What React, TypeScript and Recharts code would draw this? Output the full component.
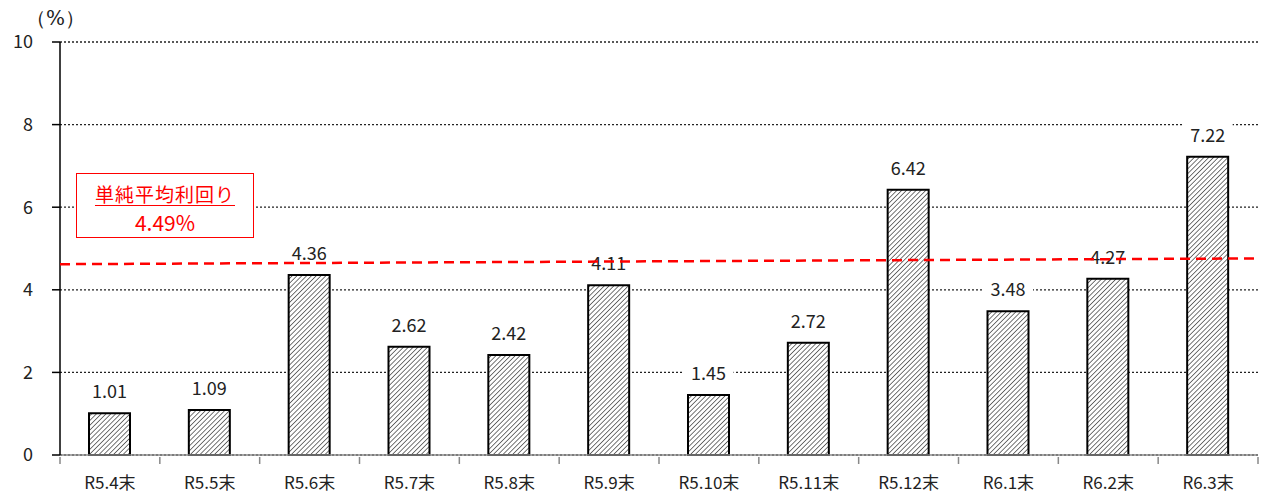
import { BarChart, Bar, XAxis, YAxis, CartesianGrid, LabelList, LineChart, Line } from "recharts";

const categories = ["R5.4末", "R5.5末", "R5.6末", "R5.7末", "R5.8末", "R5.9末", "R5.10末", "R5.11末", "R5.12末", "R6.1末", "R6.2末", "R6.3末"];
const yields = [1.01, 1.09, 4.36, 2.62, 2.42, 4.11, 1.45, 2.72, 6.42, 3.48, 4.27, 7.22];
const yTicks = [0, 2, 4, 6, 8, 10];
// dashed average line as drawn (slightly rising across the plot)
const avgLinePoints = [
  { x: 0, y: 4.62 },
  { x: 12, y: 4.76 },
];
const avgTitle = "単純平均利回り";
const avgLabel = "4.49%";

const W = 1263;
const H = 497;
const PLOT_LEFT = 60;
const PLOT_RIGHT = 1258;
const PLOT_TOP = 42;
const X_AXIS_H = 42;
const HALF_BAND = (PLOT_RIGHT - PLOT_LEFT) / categories.length / 2;

const FONT = "'Noto Sans CJK JP', 'Noto Sans', sans-serif";

const data = categories.map((c, i) => ({ name: c, value: yields[i] }));

function CategoryTick(props: any) {
  const { x, y, payload, index } = props;
  return (
    <g>
      {index === 0 && <line x1={x - HALF_BAND} y1={y - 6} x2={x - HALF_BAND} y2={y + 1} stroke="#888" strokeWidth={1.5} />}
      <line x1={x + HALF_BAND} y1={y - 6} x2={x + HALF_BAND} y2={y + 1} stroke="#888" strokeWidth={1.5} />
      <text x={x} y={y + 26} textAnchor="middle" fontSize={17} fill="#222" fontFamily={FONT}>
        {payload.value}
      </text>
    </g>
  );
}

function ValueLabel(props: any) {
  const { x, y, width, value } = props;
  const cx = x + width / 2;
  return (
    <g>
      <rect x={cx - 25} y={y - 35} width={50} height={25} fill="#fff" />
      <text x={cx} y={y - 15} textAnchor="middle" fontSize={18} fill="#222" fontFamily={FONT}>
        {value.toFixed(2)}
      </text>
    </g>
  );
}

export default function App() {
  return (
    <div style={{ position: "absolute", left: 0, top: 0, width: W, height: H, background: "#fff" }}>
      <svg width={0} height={0} style={{ position: "absolute" }}>
        <defs>
          <pattern id="hatch" patternUnits="userSpaceOnUse" width={3.4} height={3.4} patternTransform="rotate(45)">
            <rect width={3.4} height={3.4} fill="#fff" />
            <line x1={0} y1={0} x2={0} y2={3.4} stroke="#3a3a3a" strokeWidth={1.4} />
          </pattern>
        </defs>
      </svg>
      <BarChart width={W} height={H} data={data} margin={{ top: PLOT_TOP, right: W - PLOT_RIGHT, bottom: 0, left: 0 }}>
        <CartesianGrid vertical={false} stroke="#222" strokeDasharray="2 2" strokeWidth={1.3} />
        <XAxis
          dataKey="name"
          height={X_AXIS_H}
          axisLine={{ stroke: "#888", strokeWidth: 1.5 }}
          tickLine={false}
          tick={<CategoryTick />}
          interval={0}
        />
        <YAxis
          width={PLOT_LEFT}
          domain={[0, 10]}
          ticks={yTicks}
          axisLine={{ stroke: "#000", strokeWidth: 1.5 }}
          tickLine={{ stroke: "#000", strokeWidth: 1.5 }}
          tickSize={8}
          tickMargin={19}
          tick={{ fontSize: 18, fill: "#222", fontFamily: FONT }}
        />
        <Bar dataKey="value" fill="url(#hatch)" stroke="#000" strokeWidth={2} barSize={41} isAnimationActive={false}>
          <LabelList dataKey="value" content={<ValueLabel />} />
        </Bar>
      </BarChart>
      <div style={{ position: "absolute", left: 0, top: 0, pointerEvents: "none" }}>
        <LineChart
          width={W}
          height={H}
          data={avgLinePoints}
          margin={{ top: PLOT_TOP, right: W - PLOT_RIGHT, bottom: X_AXIS_H, left: PLOT_LEFT }}
        >
          <XAxis dataKey="x" type="number" domain={[0, 12]} hide />
          <YAxis domain={[0, 10]} hide />
          <Line dataKey="y" stroke="#ff0000" strokeWidth={2.5} strokeDasharray="10 6" dot={false} isAnimationActive={false} />
        </LineChart>
      </div>
      <div style={{ position: "absolute", left: 26, top: 5, fontSize: 20, fontFamily: "'DejaVu Serif', serif", color: "#222" }}>
        （%）
      </div>
      <div
        style={{
          position: "absolute",
          left: 76,
          top: 173,
          width: 178,
          height: 65,
          border: "1.5px solid #ff0000",
          background: "#fff",
          color: "#ff0000",
          fontFamily: FONT,
          textAlign: "center",
          boxSizing: "border-box",
        }}
      >
        <div style={{ fontSize: 19, lineHeight: "24px", marginTop: 8, textDecoration: "underline", textUnderlineOffset: 3, letterSpacing: 1 }}>
          {avgTitle}
        </div>
        <div style={{ fontSize: 21, lineHeight: "26px", marginTop: 3 }}>{avgLabel}</div>
      </div>
    </div>
  );
}
